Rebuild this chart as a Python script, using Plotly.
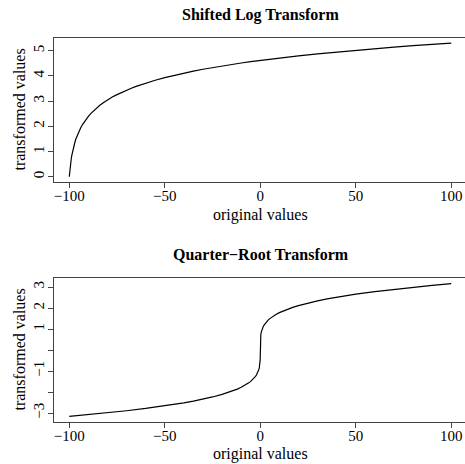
import plotly.graph_objects as go

# Shifted log transform: log(x + 101)
log_x = [-100, -99.95, -99.9, -99.8, -99.6, -99.4, -99.2, -99, -98.7, -98.4, -98,
         -97.5, -97, -96.5, -96, -95.5, -95, -94, -93, -92, -91, -90, -88.5, -87,
         -85.5, -84, -82, -80, -77.5, -75, -72.5, -70, -67.5, -65, -62.5, -60, -55,
         -50, -45, -40, -35, -30, -25, -20, -15, -10, -5, 0, 10, 20, 30, 40, 50, 60,
         70, 80, 90, 100]
log_y = [0.0, 0.049, 0.095, 0.182, 0.336, 0.470, 0.588, 0.693, 0.833, 0.956, 1.099,
         1.253, 1.386, 1.504, 1.609, 1.705, 1.792, 1.946, 2.079, 2.197, 2.303, 2.398,
         2.526, 2.639, 2.741, 2.833, 2.944, 3.045, 3.161, 3.258, 3.350, 3.434, 3.512,
         3.584, 3.651, 3.714, 3.829, 3.932, 4.025, 4.111, 4.190, 4.263, 4.331, 4.394,
         4.454, 4.511, 4.564, 4.615, 4.710, 4.796, 4.875, 4.949, 5.017, 5.081, 5.142,
         5.198, 5.252, 5.303]

# Quarter-root transform: sign(x) * |x|^(1/4)
qr_x = [-100, -90, -80, -70, -60, -50, -45, -40, -35, -30, -25, -20, -17, -14, -12,
        -10, -8, -6, -5, -4, -3, -2.5, -2, -1.5, -1, -0.7, -0.5, -0.3, -0.2, -0.1,
        -0.05, -0.01, -0.001, 0, 0.001, 0.01, 0.05, 0.1, 0.2, 0.3, 0.5, 0.7, 1, 1.5,
        2, 2.5, 3, 4, 5, 6, 8, 10, 12, 14, 17, 20, 25, 30, 35, 40, 45, 50, 60, 70, 80,
        90, 100]
qr_y = [-3.162, -3.080, -2.991, -2.893, -2.783, -2.659, -2.590, -2.515, -2.432,
        -2.340, -2.236, -2.115, -2.031, -1.934, -1.861, -1.778, -1.682, -1.565,
        -1.495, -1.414, -1.316, -1.257, -1.189, -1.107, -1.0, -0.915, -0.841,
        -0.740, -0.669, -0.562, -0.473, -0.316, -0.178, 0.0, 0.178, 0.316, 0.473,
        0.562, 0.669, 0.740, 0.841, 0.915, 1.0, 1.107, 1.189, 1.257, 1.316, 1.414,
        1.495, 1.565, 1.682, 1.778, 1.861, 1.934, 2.031, 2.115, 2.236, 2.340, 2.432,
        2.515, 2.590, 2.659, 2.783, 2.893, 2.991, 3.080, 3.162]

x_ticks = [-100, -50, 0, 50, 100]
x_labels = ["\u2212100", "\u221250", "0", "50", "100"]
top_y_ticks = [0, 1, 2, 3, 4, 5]
top_y_labels = ["0", "1", "2", "3", "4", "5"]
bot_y_ticks = [-3, -2, -1, 0, 1, 2, 3]
bot_y_labels = ["\u22123", "", "\u22121", "", "1", "2", "3"]

W, H = 465, 464
FONT = "Liberation Serif, Times New Roman, serif"
FRAME = "#444444"
FS = 16
TICK_FS = 15

fig = go.Figure()
fig.add_trace(go.Scatter(x=log_x, y=log_y, mode="lines",
                         line=dict(color="black", width=1.2),
                         xaxis="x", yaxis="y", showlegend=False, hoverinfo="skip"))
fig.add_trace(go.Scatter(x=qr_x, y=qr_y, mode="lines",
                         line=dict(color="black", width=1.2),
                         xaxis="x2", yaxis="y2", showlegend=False, hoverinfo="skip"))

axis_common = dict(showgrid=False, zeroline=False, showline=True, mirror=True,
                   linecolor=FRAME, linewidth=1, ticks="outside", ticklen=5,
                   tickwidth=1, tickcolor=FRAME,
                   tickfont=dict(family=FONT, size=TICK_FS, color="black"))

x_dom = [54 / W, 1.0]
top_dom = [1 - 182 / H, 1 - 37.5 / H]
bot_dom = [1 - 421.7 / H, 1 - 277.7 / H]

fig.update_layout(
    width=W, height=H,
    margin=dict(l=0, r=0, t=0, b=0),
    paper_bgcolor="white", plot_bgcolor="white",
    xaxis=dict(domain=x_dom, range=[-108.0, 107.2], anchor="y",
               tickvals=x_ticks, ticktext=x_labels, ticklabelstandoff=-5,
               **axis_common),
    yaxis=dict(domain=top_dom, range=[-0.21, 5.524], anchor="x",
               tickvals=top_y_ticks, ticktext=top_y_labels, tickangle=-90,
               ticklabelstandoff=-2, **axis_common),
    xaxis2=dict(domain=x_dom, range=[-108.0, 107.2], anchor="y2",
                tickvals=x_ticks, ticktext=x_labels, ticklabelstandoff=-5,
                **axis_common),
    yaxis2=dict(domain=bot_dom, range=[-3.414, 3.443], anchor="x2",
                tickvals=bot_y_ticks, ticktext=bot_y_labels, tickangle=-90,
                ticklabelstandoff=-2, **axis_common),
)

def label(text, x, y, size=FS, bold=False, angle=0):
    fig.add_annotation(text=f"<b>{text}</b>" if bold else text,
                       x=x / W, y=1 - y / H, xref="paper", yref="paper",
                       showarrow=False, textangle=angle,
                       xanchor="center", yanchor="middle",
                       font=dict(family=FONT, size=size, color="black"))

label("Shifted Log Transform", 260.5, 15, size=16, bold=True)
label("original values", 260.5, 215)
label("transformed values", 19, 109.5, angle=-90)

label("Quarter\u2212Root Transform", 260.5, 254.5, size=16, bold=True)
label("original values", 260.5, 454)
label("transformed values", 19, 349.5, angle=-90)

fig.write_html("out.html")
